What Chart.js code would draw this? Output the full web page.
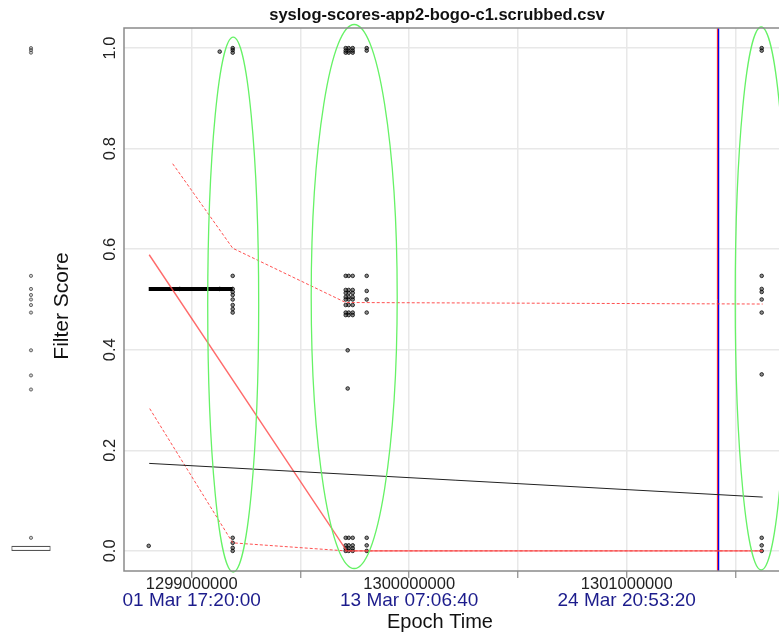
<!DOCTYPE html>
<html>
<head>
<meta charset="utf-8">
<script src="https://cdn.jsdelivr.net/npm/chart.js@4.4.1/dist/chart.umd.min.js"></script>
<style>
    html, body { margin: 0; padding: 0; background: #fff; overflow: hidden; }
    #wrap { position: relative; width: 800px; height: 636px; }
    #mainChart { position: absolute; left: 0; top: 0; }
    #marginChart { position: absolute; left: 0; top: 0; }
</style>
</head>
<body>
<div id="wrap">
    <canvas id="mainChart" width="800" height="636"></canvas>
    <canvas id="marginChart" width="62" height="636"></canvas>
</div>
<script>
// ── 축 / 눈금 ──────────────────────────────────────────────
const titleText = 'syslog-scores-app2-bogo-c1.scrubbed.csv';
const xTickValues = [1299000000, 1299500000, 1300000000, 1300500000, 1301000000, 1301500000];
const xEpochLabels = ['1299000000', '', '1300000000', '', '1301000000', ''];
const xDateLabels = ['01 Mar 17:20:00', '', '13 Mar 07:06:40', '', '24 Mar 20:53:20', ''];
const yTickValues = [0, 0.2, 0.4, 0.6, 0.8, 1.0];
const yTickLabels = ['0.0', '0.2', '0.4', '0.6', '0.8', '1.0'];
const xRange = [1298688700, 1301732400];
const yRange = [-0.04, 1.04];

// ── 점수 포인트 ────────────────────────────────────────────
const clusterATime = 1299188500;
const clusterAScores = [1.0, 0.996, 0.991, 0.547, 0.521, 0.515, 0.509, 0.500, 0.489, 0.481, 0.474, 0.026, 0.016, 0.006, 0.0];
const clusterBTimes = [1299708000, 1299721800, 1299740200];
const clusterBScores = [1.0, 0.995, 0.991, 0.547, 0.519, 0.513, 0.505, 0.500, 0.489, 0.474, 0.469, 0.026, 0.011, 0.005, 0.0];
const clusterBSideTime = 1299804600;
const clusterBSideScores = [1.0, 0.995, 0.547, 0.517, 0.500, 0.474, 0.026, 0.011, 0.0];
const clusterCTime = 1301620700;
const clusterCScores = [1.0, 0.995, 0.547, 0.521, 0.515, 0.500, 0.474, 0.351, 0.026, 0.011, 0.0];
const looseTimes = [1299717200, 1299717200, 1299128700, 1298802300, 1298944800, 1299128700];
const looseScores = [0.399, 0.323, 0.993, 0.010, 0.521, 0.521];

// ── 선 (연속 구간 / 분위선 / 추세) ─────────────────────────
const runTimes = [1298802300, 1299188500];
const runScores = [0.521, 0.521];
const medianTimes = [1298804600, 1299712600, 1301625300];
const medianScores = [0.589, 0.0, 0.0];
const upperTimes = [1298912600, 1299188500, 1299708000, 1301625300];
const upperScores = [0.770, 0.602, 0.494, 0.491];
const lowerTimes = [1298806900, 1299188500, 1299708000, 1301625300];
const lowerScores = [0.283, 0.016, 0.0, 0.0];
const trendTimes = [1298804600, 1301625300];
const trendScores = [0.174, 0.107];
const redMarkTime = 1301417000;
const blueMarkTime = 1301422000;

// ── 클러스터 타원 (데이터 단위) ────────────────────────────
const ellipseTimes = [1299190800, 1299747100, 1301618400];
const ellipseScores = [0.490, 0.506, 0.502];
const ellipseTimeRadius = [117200, 197700, 119500];
const ellipseScoreRadius = [0.532, 0.541, 0.540];

// ── 왼쪽 박스플롯 ──────────────────────────────────────────
const boxRange = [0, 0.01];
const boxOutliers = [1.0, 0.996, 0.991, 0.547, 0.521, 0.509, 0.500, 0.489, 0.474, 0.399, 0.349, 0.321, 0.026];

const FONT = '"Liberation Sans", Arial, sans-serif';
const NAVY = '#1c1c8c';

function pairs(times, scores) {
    return times.map((t, i) => ({ x: t, y: scores[i] }));
}

// 포인트 목록 조립
const scorePoints = [];
clusterAScores.forEach(s => scorePoints.push({ x: clusterATime, y: s }));
clusterBTimes.forEach(t => clusterBScores.forEach(s => scorePoints.push({ x: t, y: s })));
clusterBSideScores.forEach(s => scorePoints.push({ x: clusterBSideTime, y: s }));
clusterCScores.forEach(s => scorePoints.push({ x: clusterCTime, y: s }));
pairs(looseTimes, looseScores).forEach(p => scorePoints.push(p));

function lineSet(data, color, width, dash) {
    return {
        data: data,
        showLine: true,
        borderColor: color,
        borderWidth: width,
        borderDash: dash || [],
        pointRadius: 0,
        fill: false,
        tension: 0
    };
}

// 테두리, 눈금 라벨, 제목, 타원
const decorPlugin = {
    id: 'decor',
    afterDatasetsDraw(chart) {
        const { ctx, scales: { x, y } } = chart;
        ctx.save();
        ctx.strokeStyle = '#66f266';
        ctx.lineWidth = 1.3;
        ellipseTimes.forEach((t, i) => {
            const cx = x.getPixelForValue(t);
            const cy = y.getPixelForValue(ellipseScores[i]);
            const rx = Math.abs(x.getPixelForValue(t + ellipseTimeRadius[i]) - cx);
            const ry = Math.abs(y.getPixelForValue(ellipseScores[i] + ellipseScoreRadius[i]) - cy);
            ctx.beginPath();
            ctx.ellipse(cx, cy, rx, ry, 0, 0, Math.PI * 2);
            ctx.stroke();
        });
        ctx.restore();
    },
    afterDraw(chart) {
        const { ctx, chartArea: a, scales: { x, y } } = chart;
        ctx.save();
        // 플롯 박스
        ctx.strokeStyle = '#8a8a8a';
        ctx.lineWidth = 1.5;
        ctx.strokeRect(a.left, a.top, a.right - a.left, a.bottom - a.top);

        // y 눈금 (세로 회전)
        ctx.fillStyle = '#222';
        ctx.font = '16.5px ' + FONT;
        ctx.textAlign = 'center';
        ctx.textBaseline = 'middle';
        yTickValues.forEach((v, i) => {
            ctx.save();
            ctx.translate(a.left - 14, y.getPixelForValue(v));
            ctx.rotate(-Math.PI / 2);
            ctx.fillText(yTickLabels[i], 0, 0);
            ctx.restore();
        });

        // x 눈금: epoch + 날짜 두 줄
        xTickValues.forEach((v, i) => {
            const px = x.getPixelForValue(v);
            if (xEpochLabels[i]) {
                ctx.fillStyle = '#222';
                ctx.font = '16.5px ' + FONT;
                ctx.fillText(xEpochLabels[i], px, a.bottom + 13);
            }
            if (xDateLabels[i]) {
                ctx.fillStyle = NAVY;
                ctx.font = '19px ' + FONT;
                ctx.fillText(xDateLabels[i], px, a.bottom + 30);
            }
        });

        // 제목과 축 이름
        ctx.fillStyle = '#111';
        ctx.font = 'bold 16.5px ' + FONT;
        ctx.fillText(titleText, 437, 15);
        ctx.font = '20px ' + FONT;
        ctx.fillText('Epoch Time', 440, 622);
        ctx.save();
        ctx.translate(62, 306);
        ctx.rotate(-Math.PI / 2);
        ctx.font = '21px ' + FONT;
        ctx.fillText('Filter Score', 0, 0);
        ctx.restore();
        ctx.restore();
    }
};

new Chart(document.getElementById('mainChart'), {
    type: 'scatter',
    data: {
        datasets: [
            lineSet(pairs(trendTimes, trendScores), '#222', 1),
            lineSet(pairs(upperTimes, upperScores), 'rgba(255,50,50,0.85)', 1, [3, 2]),
            lineSet(pairs(lowerTimes, lowerScores), 'rgba(255,50,50,0.85)', 1, [3, 2]),
            lineSet(pairs(medianTimes, medianScores), 'rgba(255,70,70,0.8)', 1.4),
            lineSet(pairs(runTimes, runScores), '#000', 4),
            lineSet([{ x: redMarkTime, y: yRange[0] }, { x: redMarkTime, y: yRange[1] }], '#ff2020', 1),
            lineSet([{ x: blueMarkTime, y: yRange[0] }, { x: blueMarkTime, y: yRange[1] }], '#0000ee', 1.5),
            {
                data: scorePoints,
                pointRadius: 1.8,
                pointBorderWidth: 0.9,
                pointBorderColor: 'rgba(0,0,0,0.85)',
                pointBackgroundColor: 'rgba(0,0,0,0.45)'
            }
        ]
    },
    options: {
        responsive: false,
        animation: false,
        devicePixelRatio: 1,
        layout: { padding: { top: 28, right: 14, bottom: 0, left: 0 } },
        plugins: { legend: { display: false }, tooltip: { enabled: false } },
        scales: {
            x: {
                type: 'linear',
                min: xRange[0],
                max: xRange[1],
                afterBuildTicks: s => { s.ticks = xTickValues.map(v => ({ value: v })); },
                afterFit: s => { s.height = 65; },
                ticks: { display: false },
                grid: { color: '#e8e8e8', lineWidth: 1.5, drawTicks: true, tickLength: 7, tickColor: '#8a8a8a', tickWidth: 1.2 },
                border: { display: false }
            },
            y: {
                min: yRange[0],
                max: yRange[1],
                afterBuildTicks: s => { s.ticks = yTickValues.map(v => ({ value: v })); },
                afterFit: s => { s.width = 124; },
                ticks: { display: false },
                grid: { color: '#e8e8e8', lineWidth: 1.5, drawTicks: false },
                border: { display: false }
            }
        }
    },
    plugins: [decorPlugin]
});

// 전체 점수 분포 박스플롯
new Chart(document.getElementById('marginChart'), {
    type: 'bar',
    data: {
        labels: ['all'],
        datasets: [
            {
                data: [boxRange],
                backgroundColor: '#fff',
                borderColor: '#555',
                borderWidth: 1.2,
                borderSkipped: false,
                categoryPercentage: 1,
                barPercentage: 0.75
            },
            {
                type: 'line',
                showLine: false,
                data: boxOutliers.map(s => ({ x: 'all', y: s })),
                pointRadius: 1.6,
                pointBorderWidth: 0.8,
                pointBorderColor: 'rgba(50,50,50,0.85)',
                pointBackgroundColor: 'rgba(110,110,110,0.35)'
            }
        ]
    },
    options: {
        responsive: false,
        animation: false,
        devicePixelRatio: 1,
        layout: { padding: { top: 28, right: 0, bottom: 65, left: 0 } },
        plugins: { legend: { display: false }, tooltip: { enabled: false } },
        scales: {
            x: { display: false },
            y: { display: false, min: yRange[0], max: yRange[1] }
        }
    }
});
</script>
</body>
</html>
